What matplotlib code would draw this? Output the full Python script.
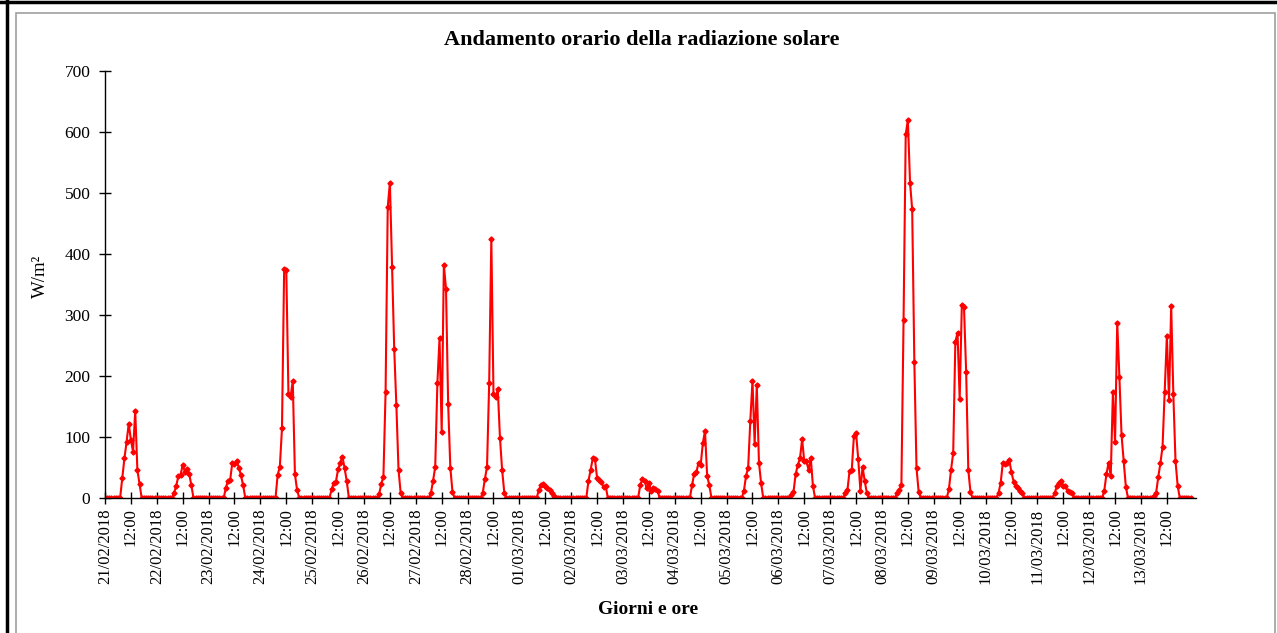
import numpy as np
import matplotlib.pyplot as plt
from matplotlib.lines import Line2D
from matplotlib.patches import Rectangle

plt.rcParams['font.family'] = ['Liberation Serif', 'DejaVu Serif']

# giorni del periodo (etichette asse x)
giorni = ['21/02/2018', '22/02/2018', '23/02/2018', '24/02/2018', '25/02/2018',
          '26/02/2018', '27/02/2018', '28/02/2018', '01/03/2018', '02/03/2018',
          '03/03/2018', '04/03/2018', '05/03/2018', '06/03/2018', '07/03/2018',
          '08/03/2018', '09/03/2018', '10/03/2018', '11/03/2018', '12/03/2018',
          '13/03/2018']

# radiazione oraria W/m2, ore 0..23 di ogni giorno
r_21_02 = [0, 0, 0, 0, 0, 0, 0, 0, 33, 65, 92, 122, 95, 76, 143, 46, 23, 0, 0, 0, 0, 0, 0, 0]
r_22_02 = [0, 0, 0, 0, 0, 0, 0, 0, 8, 20, 36, 38, 54, 43, 47, 40, 21, 0, 0, 0, 0, 0, 0, 0]
r_23_02 = [0, 0, 0, 0, 0, 0, 0, 0, 17, 28, 30, 58, 55, 61, 50, 37, 21, 0, 0, 0, 0, 0, 0, 0]
r_24_02 = [0, 0, 0, 0, 0, 0, 0, 0, 38, 51, 114, 375, 373, 170, 166, 192, 39, 13, 0, 0, 0, 0, 0, 0]
r_25_02 = [0, 0, 0, 0, 0, 0, 0, 0, 0, 14, 25, 27, 47, 58, 68, 49, 28, 0, 0, 0, 0, 0, 0, 0]
r_26_02 = [0, 0, 0, 0, 0, 0, 0, 6, 23, 35, 173, 477, 517, 379, 245, 152, 46, 8, 0, 0, 0, 0, 0, 0]
r_27_02 = [0, 0, 0, 0, 0, 0, 0, 8, 28, 51, 188, 262, 108, 382, 343, 154, 50, 10, 0, 0, 0, 0, 0, 0]
r_28_02 = [0, 0, 0, 0, 0, 0, 0, 8, 31, 51, 188, 425, 170, 166, 178, 99, 46, 9, 0, 0, 0, 0, 0, 0]
r_01_03 = [0, 0, 0, 0, 0, 0, 0, 0, 0, 13, 21, 23, 20, 17, 13, 9, 3, 0, 0, 0, 0, 0, 0, 0]
r_02_03 = [0, 0, 0, 0, 0, 0, 0, 0, 28, 46, 65, 64, 33, 30, 26, 18, 19, 0, 0, 0, 0, 0, 0, 0]
r_03_03 = [0, 0, 0, 0, 0, 0, 0, 0, 21, 31, 28, 16, 25, 12, 16, 14, 12, 0, 0, 0, 0, 0, 0, 0]
r_04_03 = [0, 0, 0, 0, 0, 0, 0, 0, 21, 40, 42, 58, 54, 90, 110, 36, 21, 0, 0, 0, 0, 0, 0, 0]
r_05_03 = [0, 0, 0, 0, 0, 0, 0, 0, 11, 36, 50, 127, 192, 89, 185, 58, 24, 0, 0, 0, 0, 0, 0, 0]
r_06_03 = [0, 0, 0, 0, 0, 0, 5, 10, 39, 54, 65, 96, 60, 60, 46, 66, 20, 0, 0, 0, 0, 0, 0, 0]
r_07_03 = [0, 0, 0, 0, 0, 0, 0, 8, 13, 45, 46, 102, 106, 64, 12, 51, 28, 8, 0, 0, 0, 0, 0, 0]
r_08_03 = [0, 0, 0, 0, 0, 0, 0, 8, 13, 21, 292, 596, 620, 517, 473, 223, 49, 10, 0, 0, 0, 0, 0, 0]
r_09_03 = [0, 0, 0, 0, 0, 0, 0, 14, 46, 74, 256, 271, 162, 316, 313, 207, 46, 10, 0, 0, 0, 0, 0, 0]
r_10_03 = [0, 0, 0, 0, 0, 0, 8, 25, 58, 56, 57, 62, 42, 27, 19, 16, 12, 8, 0, 0, 0, 0, 0, 0]
r_11_03 = [0, 0, 0, 0, 0, 0, 0, 0, 8, 19, 24, 28, 19, 20, 12, 10, 9, 0, 0, 0, 0, 0, 0, 0]
r_12_03 = [0, 0, 0, 0, 0, 0, 0, 12, 39, 58, 36, 174, 92, 287, 199, 103, 61, 18, 0, 0, 0, 0, 0, 0]
r_13_03 = [0, 0, 0, 0, 0, 0, 3, 8, 34, 57, 84, 174, 266, 160, 315, 170, 61, 20, 0, 0, 0, 0, 0, 0]

radiazione = np.concatenate([r_21_02, r_22_02, r_23_02, r_24_02, r_25_02, r_26_02, r_27_02,
                             r_28_02, r_01_03, r_02_03, r_03_03, r_04_03, r_05_03, r_06_03,
                             r_07_03, r_08_03, r_09_03, r_10_03, r_11_03, r_12_03, r_13_03])
ore = np.arange(len(radiazione))

W, H = 1277, 633
fig = plt.figure(figsize=(W / 100, H / 100), dpi=100)

# cornice dell'area grafico
fig.patches.append(Rectangle((16 / W, -0.1), (1275 - 16) / W, 1.1 - 13 / H,
                             transform=fig.transFigure, fill=False,
                             edgecolor='#a0a0a0', linewidth=1.2))
fig.lines.append(Line2D([0, 1], [1 - 1.5 / H, 1 - 1.5 / H], transform=fig.transFigure,
                        color='black', linewidth=2.5))
fig.lines.append(Line2D([6.5 / W, 6.5 / W], [0, 1], transform=fig.transFigure,
                        color='black', linewidth=2.5))

ax = fig.add_axes([105 / W, 1 - 498 / H, (1196 - 105) / W, (498 - 71) / H])
ax.plot(ore, radiazione, color='red', linewidth=1.5, marker='D', markersize=2.6)

ax.set_xlim(0, 505.5)
ax.set_ylim(0, 700)
ax.set_yticks(range(0, 701, 100))
pos = np.arange(0, len(radiazione), 12)
etichette = []
for g in giorni:
    etichette += [g, '12:00']
ax.set_xticks(pos)
ax.set_xticklabels(etichette, rotation=90, fontsize=12)
ax.tick_params(axis='y', labelsize=12.5, pad=6)
ax.tick_params(direction='inout', length=9, width=1, color='black')
ax.tick_params(axis='x', pad=3)
for s in ['top', 'right']:
    ax.spines[s].set_visible(False)
for s in ['left', 'bottom']:
    ax.spines[s].set_color('black')
    ax.spines[s].set_linewidth(1)

fig.text(642 / W, 1 - 40 / H, 'Andamento orario della radiazione solare',
         ha='center', va='center', fontsize=16, fontweight='bold')
fig.text(648 / W, 1 - 610 / H, 'Giorni e ore', ha='center', va='center',
         fontsize=14, fontweight='bold')
fig.text(40 / W, 1 - 276 / H, 'W/m²', ha='center', va='center', rotation=90, fontsize=13.5)

fig.savefig('out.png', dpi=100)
